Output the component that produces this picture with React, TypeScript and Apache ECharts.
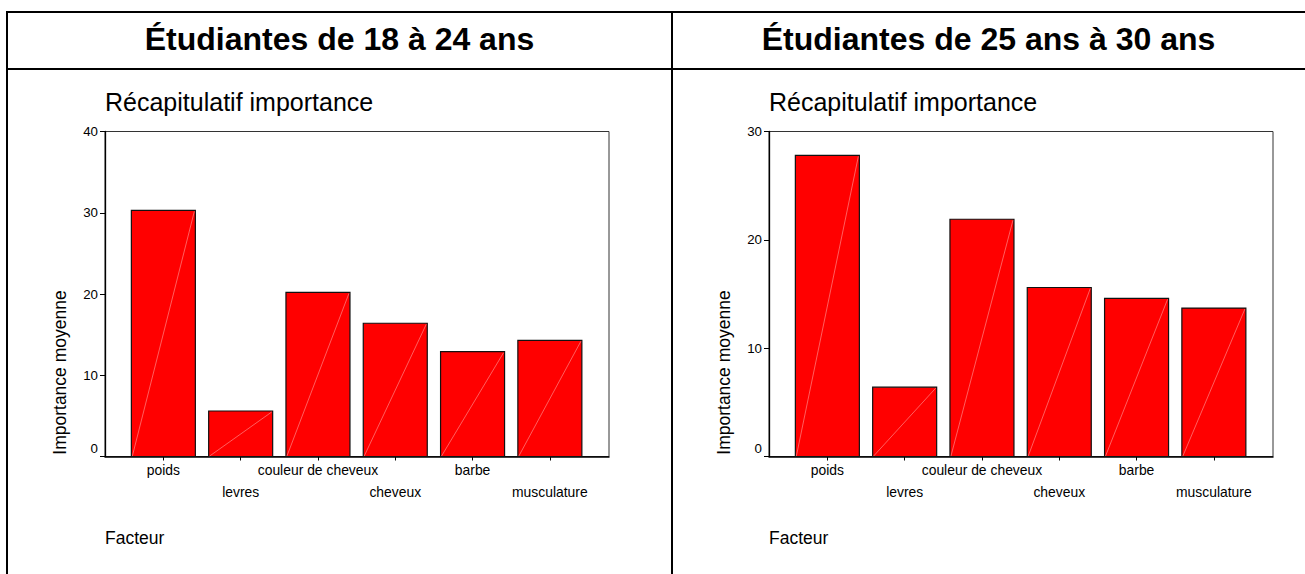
import React, { useEffect, useRef } from "react";
import * as echarts from "echarts";

const CATEGORIES = ["poids", "levres", "couleur de cheveux", "cheveux", "barbe", "musculature"];
const VALUES_18_24 = [30.3, 5.6, 20.2, 16.4, 12.9, 14.3];
const VALUES_25_30 = [27.8, 6.4, 21.9, 15.6, 14.6, 13.7];
const PANEL_TITLES = ["Étudiantes de 18 à 24 ans", "Étudiantes de 25 ans à 30 ans"];
const CHART_TITLE = "Récapitulatif importance";
const Y_NAME = "Importance moyenne";
const X_NAME = "Facteur";
const Y_MAX = [40, 30];
const Y_INTERVAL = 10;

const FONT = '"Liberation Sans", Arial, Helvetica, sans-serif';

export default function App() {
  const ref = useRef<HTMLDivElement>(null);

  useEffect(() => {
    if (!ref.current) return;
    const chart = echarts.init(ref.current, null, { renderer: "svg" });

    const gridLefts = [105, 769];
    const panelCenters = [339.5, 988.5];
    const yNameX = [59.6, 724];
    const datasets = [VALUES_18_24, VALUES_25_30];
    const tickIdx = CATEGORIES.map((_, i) => i);

    const grids = gridLefts.map((left) => ({
      left,
      top: 131.5,
      width: 504,
      height: 325,
      show: true,
      borderColor: "#333",
      borderWidth: 1,
      backgroundColor: "transparent",
    }));

    const xAxes = gridLefts.map((_, g) => ({
      type: "value",
      gridIndex: g,
      min: -0.755,
      max: 5.765,
      splitLine: { show: false },
      axisLine: { show: true, onZero: false, lineStyle: { color: "#000", width: 1.5 } },
      axisTick: { show: true, customValues: tickIdx, length: 4, lineStyle: { color: "#000", width: 1 } },
      axisLabel: {
        customValues: tickIdx,
        color: "#000",
        fontFamily: FONT,
        fontSize: 13.9,
        lineHeight: 21.5,
        margin: 3,
        formatter: (v: number) => {
          const i = Math.round(v);
          const name = CATEGORIES[i] ?? "";
          return i % 2 === 1 ? "\n" + name : name;
        },
      },
    }));

    const yAxes = gridLefts.map((_, g) => ({
      type: "value",
      gridIndex: g,
      min: 0,
      max: Y_MAX[g],
      interval: Y_INTERVAL,
      splitLine: { show: false },
      axisLine: { show: true, onZero: false, lineStyle: { color: "#000", width: 1.3 } },
      axisTick: { show: true, length: 5, lineStyle: { color: "#000", width: 1 } },
      axisLabel: {
        color: "#000",
        fontFamily: FONT,
        fontSize: 13.3,
        margin: 7,
        formatter: (v: number) => (v === 0 ? "{z|0}" : String(v)),
        rich: {
          z: { fontSize: 13.3, fontFamily: FONT, color: "#000", padding: [0, 0, 17, 0] },
        },
      },
    }));

    const series = datasets.map((vals, g) => ({
      type: "custom",
      xAxisIndex: g,
      yAxisIndex: g,
      data: vals.map((v, i) => [i, v]),
      encode: { x: 0, y: 1 },
      renderItem: (_params: any, api: any) => {
        const i = api.value(0);
        const v = api.value(1);
        const top = api.coord([i, v]);
        const base = api.coord([i, 0]);
        const w = api.size([0.828, 0])[0];
        const x0 = top[0] - w / 2;
        return {
          type: "group",
          children: [
            {
              type: "rect",
              shape: { x: x0, y: top[1], width: w, height: base[1] - top[1] },
              style: { fill: "#ff0000", stroke: "#111", lineWidth: 1.2 },
            },
            {
              type: "line",
              shape: { x1: x0 + 1, y1: base[1] - 0.5, x2: x0 + w - 1, y2: top[1] + 1 },
              style: { stroke: "rgba(255,175,175,0.9)", lineWidth: 0.6 },
            },
          ],
        };
      },
    }));

    const graphics: any[] = [
      { type: "line", shape: { x1: 6, y1: 12, x2: 1305, y2: 12 }, style: { stroke: "#000", lineWidth: 2 } },
      { type: "line", shape: { x1: 6, y1: 69, x2: 1305, y2: 69 }, style: { stroke: "#000", lineWidth: 2 } },
      { type: "line", shape: { x1: 7, y1: 11, x2: 7, y2: 574 }, style: { stroke: "#000", lineWidth: 2 } },
      { type: "line", shape: { x1: 672, y1: 11, x2: 672, y2: 574 }, style: { stroke: "#000", lineWidth: 2 } },
    ];

    gridLefts.forEach((left, g) => {
      graphics.push({
        type: "text",
        x: panelCenters[g],
        y: 39,
        style: {
          text: PANEL_TITLES[g],
          fill: "#000",
          fontFamily: FONT,
          fontWeight: "bold",
          fontSize: 32,
          align: "center",
          verticalAlign: "middle",
        },
      });
      graphics.push({
        type: "text",
        x: left,
        y: 101.8,
        style: {
          text: CHART_TITLE,
          fill: "#000",
          fontFamily: FONT,
          fontSize: 25,
          align: "left",
          verticalAlign: "middle",
        },
      });
      graphics.push({
        type: "text",
        x: yNameX[g],
        y: 372.5,
        rotation: Math.PI / 2,
        style: {
          text: Y_NAME,
          fill: "#000",
          fontFamily: FONT,
          fontSize: 17.5,
          align: "center",
          verticalAlign: "middle",
        },
      });
      graphics.push({
        type: "text",
        x: left,
        y: 538,
        style: {
          text: X_NAME,
          fill: "#000",
          fontFamily: FONT,
          fontSize: 17.5,
          align: "left",
          verticalAlign: "middle",
        },
      });
    });

    chart.setOption({
      animation: false,
      backgroundColor: "#fff",
      grid: grids,
      xAxis: xAxes,
      yAxis: yAxes,
      series,
      graphic: graphics,
    });

    return () => chart.dispose();
  }, []);

  return (
    <div
      ref={ref}
      style={{ position: "absolute", left: 0, top: 0, width: 1305, height: 574 }}
    />
  );
}
